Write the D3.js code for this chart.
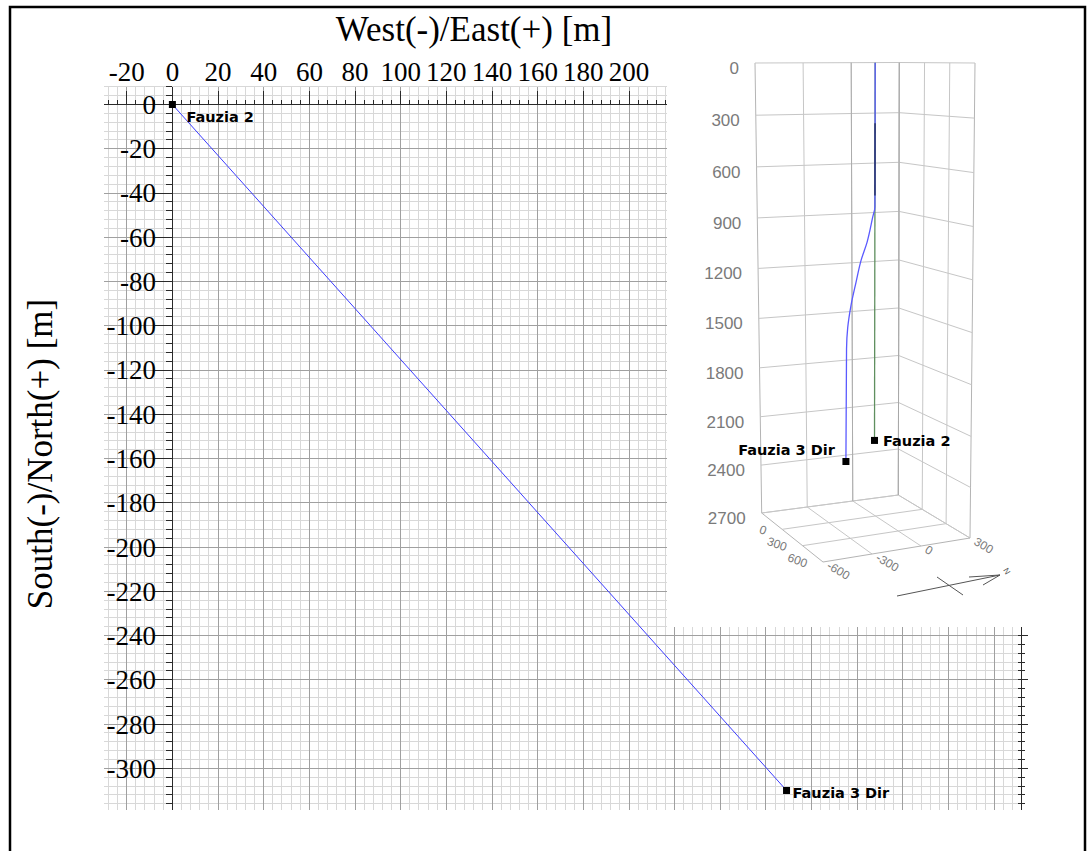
<!DOCTYPE html>
<html><head><meta charset="utf-8">
<script src="https://cdn.jsdelivr.net/npm/d3@7/dist/d3.min.js"></script>
<style>body{margin:0;background:#fff}svg{display:block}</style>
</head><body>
<svg id="chart" width="1088" height="851"></svg>
<script>
// ---------- plan view (2D) data ----------
const xTickValues = [-20, 0, 20, 40, 60, 80, 100, 120, 140, 160, 180, 200];
const yTickValues = [0, -20, -40, -60, -80, -100, -120, -140, -160, -180, -200, -220, -240, -260, -280, -300];
const xTitle = "West(-)/East(+) [m]";
const yTitle = "South(-)/North(+) [m]";
const wellNames = ["Fauzia 2", "Fauzia 3 Dir"];
const planEast = [0, 269];
const planNorth = [0, -310];

// ---------- 3D inset data ----------
const depthTicks = [0, 300, 600, 900, 1200, 1500, 1800, 2100, 2400, 2700];
const northTicks = [-600, -300, 0, 300];
const northTickLabels = ["-600", "-300", "0", "300"];
const eastTicks = [0, 300, 600, 900];
const eastTickLabels = ["0", "300", "600", ""];
const f2North = [0, 0];
const f2East = [285, 285];
const f2Depth = [0, 2235];
const f3North = [0, 0, -25, -87, -155, -211, -264, -298, -310, -310];
const f3East = [285, 285, 306, 360, 420, 468, 514, 543, 554, 554];
const f3Depth = [0, 830, 890, 1025, 1120, 1240, 1360, 1480, 1600, 2256];
const darkDepth = [345, 765];

const svg = d3.select("#chart");

// ---------- plan scales ----------
const x = d3.scaleLinear().domain([-30, 372]).range([103.9, 1021.7]);
const y = d3.scaleLinear().domain([8, -319]).range([86.8, 810.4]);
const xGrid = d3.range(-28, 373, 4);
const yGrid = d3.range(8, -320, -4);
const [gx0, gx1] = x.range();
const [gy0, gy1] = y.range();

const grid = svg.append("g").attr("shape-rendering", "crispEdges");
grid.selectAll(".vx").data(xGrid.filter(d => d % 20 !== 0)).join("line")
  .attr("x1", d => x(d)).attr("x2", d => x(d)).attr("y1", gy0).attr("y2", gy1)
  .attr("stroke", "#d8d8d8");
grid.selectAll(".hy").data(yGrid.filter(d => d % 20 !== 0)).join("line")
  .attr("y1", d => y(d)).attr("y2", d => y(d)).attr("x1", gx0).attr("x2", gx1)
  .attr("stroke", "#d8d8d8");
grid.selectAll(".vxm").data(xGrid.filter(d => d % 20 === 0)).join("line")
  .attr("x1", d => x(d)).attr("x2", d => x(d)).attr("y1", gy0).attr("y2", gy1)
  .attr("stroke", "#a0a0a0");
grid.selectAll(".hym").data(yGrid.filter(d => d % 20 === 0)).join("line")
  .attr("y1", d => y(d)).attr("y2", d => y(d)).attr("x1", gx0).attr("x2", gx1)
  .attr("stroke", "#a0a0a0");

// inset white area
const insetLeft = 667, insetBottom = 627;
svg.append("rect").attr("x", insetLeft).attr("y", 0).attr("width", 1088 - insetLeft).attr("height", insetBottom).attr("fill", "#fff");

// ---------- axes ----------
const ax = svg.append("g").attr("stroke", "#2a2a2a").attr("shape-rendering", "crispEdges");
ax.append("line").attr("x1", gx0).attr("x2", insetLeft).attr("y1", y(0)).attr("y2", y(0));
ax.selectAll(".xt").data(xGrid.filter(d => x(d) <= insetLeft)).join("line")
  .attr("x1", d => x(d)).attr("x2", d => x(d))
  .attr("y1", y(0)).attr("y2", d => y(0) - (d % 20 === 0 ? 14 : 5));
ax.append("line").attr("x1", x(0)).attr("x2", x(0)).attr("y1", gy0).attr("y2", gy1);
ax.selectAll(".yt").data(yGrid).join("line")
  .attr("y1", d => y(d)).attr("y2", d => y(d))
  .attr("x1", x(0)).attr("x2", d => x(0) - (d % 20 === 0 ? 17 : 6));
ax.append("line").attr("x1", gx1).attr("x2", gx1).attr("y1", insetBottom).attr("y2", gy1);
ax.selectAll(".rt").data(yGrid.filter(d => y(d) >= insetBottom)).join("line")
  .attr("y1", d => y(d)).attr("y2", d => y(d))
  .attr("x1", gx1 - 4).attr("x2", d => gx1 + (d % 20 === 0 ? 6 : 3));

// tick labels
const serif = "'Liberation Serif', 'Times New Roman', serif";
svg.append("g").selectAll("text").data(xTickValues).join("text")
  .attr("x", d => x(d)).attr("y", 81).attr("text-anchor", "middle")
  .attr("font-family", serif).attr("font-size", 27)
  .text(d => d);
svg.append("g").selectAll("text").data(yTickValues).join("text")
  .attr("x", 156).attr("y", d => y(d)).attr("dy", "0.35em").attr("text-anchor", "end")
  .attr("font-family", serif).attr("font-size", 27)
  .text(d => d);

// titles
svg.append("text").attr("x", 474).attr("y", 41).attr("text-anchor", "middle")
  .attr("font-family", serif).attr("font-size", 35)
  .text(xTitle);
svg.append("text").attr("transform", "translate(52,454) rotate(-90)").attr("text-anchor", "middle")
  .attr("font-family", serif).attr("font-size", 35)
  .text(yTitle);

// well trajectory in plan
const planPts = planEast.map((e, i) => [e, planNorth[i]]);
svg.append("path").datum(planPts)
  .attr("d", d3.line().x(d => x(d[0])).y(d => y(d[1])))
  .attr("fill", "none").attr("stroke", "#3c3cff").attr("stroke-width", 1);
svg.selectAll(".pm").data(planPts).join("rect")
  .attr("x", d => x(d[0]) - 3.5).attr("y", d => y(d[1]) - 3.5).attr("width", 7).attr("height", 7).attr("fill", "#000");
const planLabelOffsets = [[14, 17], [6, 8]];
svg.selectAll(".pl").data(planPts).join("text")
  .attr("x", (d, i) => x(d[0]) + planLabelOffsets[i][0]).attr("y", (d, i) => y(d[1]) + planLabelOffsets[i][1])
  .attr("font-family", "'DejaVu Sans', Verdana, sans-serif").attr("font-weight", "bold").attr("font-size", 14.5)
  .text((d, i) => wellNames[i]);

// ---------- 3D inset ----------
const uScale = d3.scaleLinear().domain([-600, 300]).range([0, 1]);
const vScale = d3.scaleLinear().domain([0, 900]).range([0, 1]);
const tScale = d3.scaleLinear().domain([0, 2700]).range([0, 1]);
const warp = t => t * 1.05 / (1 + 0.05 * t);
const topQ = {A: [755, 63], B: [899.3, 62.5], C: [975, 63], F: [830.7, 63.5]};
const botQ = {A: [761.7, 513], B: [898.3, 495], C: [970, 538], F: [823, 562]};
function bil(q, u, v) {
  return [0, 1].map(i => (1 - u) * (1 - v) * q.A[i] + u * (1 - v) * q.B[i] + u * v * q.C[i] + (1 - u) * v * q.F[i]);
}
function proj(n, e, d) {
  const u = uScale(n), v = vScale(e), t = warp(tScale(d));
  const p0 = bil(topQ, u, v), p1 = bil(botQ, u, v);
  return [p0[0] + (p1[0] - p0[0]) * t, p0[1] + (p1[1] - p0[1]) * t];
}
const [nMin, nMax] = uScale.domain();
const [eMin, eMax] = vScale.domain();
const dMax = tScale.domain()[1];
const line3 = d3.line().x(d => d[0]).y(d => d[1]);
const inset = svg.append("g").attr("fill", "none");
const segs = [];
northTicks.forEach(n => segs.push([proj(n, eMin, 0), proj(n, eMin, dMax), n === nMin || n === nMax]));
depthTicks.forEach(d => segs.push([proj(nMin, eMin, d), proj(nMax, eMin, d), false]));
eastTicks.forEach(e => segs.push([proj(nMax, e, 0), proj(nMax, e, dMax), e === eMax]));
depthTicks.forEach(d => segs.push([proj(nMax, eMin, d), proj(nMax, eMax, d), false]));
northTicks.forEach(n => segs.push([proj(n, eMin, dMax), proj(n, eMax, dMax), n === nMin]));
eastTicks.forEach(e => segs.push([proj(nMin, e, dMax), proj(nMax, e, dMax), e === eMax]));
inset.selectAll("line").data(segs).join("line")
  .attr("x1", d => d[0][0]).attr("y1", d => d[0][1]).attr("x2", d => d[1][0]).attr("y2", d => d[1][1])
  .attr("stroke", d => d[2] ? "#b4b4b4" : "#c6c6c6").attr("stroke-width", 1);
inset.append("line")
  .attr("x1", proj(nMax, eMin, 0)[0]).attr("y1", proj(nMax, eMin, 0)[1])
  .attr("x2", proj(nMax, eMin, dMax)[0]).attr("y2", proj(nMax, eMin, dMax)[1])
  .attr("stroke", "#a8a8a8");
inset.append("line")
  .attr("x1", proj(0, eMin, 0)[0]).attr("y1", proj(0, eMin, 0)[1])
  .attr("x2", proj(0, eMin, dMax)[0]).attr("y2", proj(0, eMin, dMax)[1])
  .attr("stroke", "#acacac");

// depth labels
svg.append("g").selectAll("text").data(depthTicks).join("text")
  .attr("x", d => proj(nMin, eMin, d)[0] - 16).attr("y", d => proj(nMin, eMin, d)[1] + 5)
  .attr("dy", "0.35em").attr("text-anchor", "end")
  .attr("font-family", "'Liberation Sans', Arial, sans-serif").attr("font-size", 17)
  .attr("fill", "#7a7a7a")
  .text(d => d);
svg.append("g").selectAll("text").data(eastTicks).join("text")
  .attr("transform", d => { const p = proj(nMin, d, dMax); return `translate(${p[0] + 3},${p[1] + 22}) rotate(20)`; })
  .attr("text-anchor", "end")
  .attr("font-family", "'Liberation Sans', Arial, sans-serif").attr("font-size", 12).attr("fill", "#7a7a7a")
  .text((d, i) => eastTickLabels[i]);
svg.append("g").selectAll("text").data(northTicks).join("text")
  .attr("transform", d => { const p = proj(d, eMax, dMax); return `translate(${p[0] + 3},${p[1] + 6}) rotate(30)`; })
  .attr("font-family", "'Liberation Sans', Arial, sans-serif").attr("font-size", 12).attr("fill", "#7a7a7a")
  .text((d, i) => northTickLabels[i]);

// north arrow
const arrow = svg.append("g").attr("stroke", "#555").attr("fill", "none");
arrow.append("line").attr("x1", 897).attr("y1", 596).attr("x2", 1000).attr("y2", 575);
arrow.append("line").attr("x1", 969).attr("y1", 577).attr("x2", 1000).attr("y2", 575);
arrow.append("line").attr("x1", 983).attr("y1", 585).attr("x2", 1000).attr("y2", 575);
arrow.append("line").attr("x1", 937).attr("y1", 577).attr("x2", 963).attr("y2", 595);
svg.append("text").attr("transform", "translate(1003,570) rotate(60)")
  .attr("font-family", "'Liberation Sans', Arial, sans-serif").attr("font-size", 8).attr("fill", "#555").text("N");

// wells in 3D
const f2Pts = f2Depth.map((d, i) => proj(f2North[i], f2East[i], d));
const f3Pts = f3Depth.map((d, i) => proj(f3North[i], f3East[i], d));
const darkPts = darkDepth.map(d => proj(f2North[0], f2East[0], d));
svg.append("path").attr("d", line3(f2Pts)).attr("fill", "none").attr("stroke", "#5f8f5f").attr("stroke-width", 1.3);
svg.append("path").attr("fill", "none").attr("stroke", "#5a5aff").attr("stroke-width", 1.3)
  .attr("d", d3.line().curve(d3.curveMonotoneY).x(d => d[0]).y(d => d[1])(f3Pts));
svg.append("path").attr("d", line3(darkPts)).attr("fill", "none").attr("stroke", "#2e3a6e").attr("stroke-width", 1.6);
const ends3 = [f2Pts[f2Pts.length - 1], f3Pts[f3Pts.length - 1]];
svg.selectAll(".m3").data(ends3).join("rect")
  .attr("x", d => d[0] - 3.5).attr("y", d => d[1] - 3.5).attr("width", 7).attr("height", 7).attr("fill", "#000");
svg.append("text").attr("x", ends3[0][0] + 8.5).attr("y", ends3[0][1] + 6)
  .attr("font-family", "'DejaVu Sans', Verdana, sans-serif").attr("font-weight", "bold").attr("font-size", 14.5)
  .text(wellNames[0]);
svg.append("text").attr("x", ends3[1][0] - 11).attr("y", ends3[1][1] - 7).attr("text-anchor", "end")
  .attr("font-family", "'DejaVu Sans', Verdana, sans-serif").attr("font-weight", "bold").attr("font-size", 14.5)
  .text(wellNames[1]);

// outer frame
svg.append("rect").attr("x", 10).attr("y", 7).attr("width", 1075).attr("height", 850)
  .attr("fill", "none").attr("stroke", "#000").attr("stroke-width", 2.5);
</script>
</body></html>
